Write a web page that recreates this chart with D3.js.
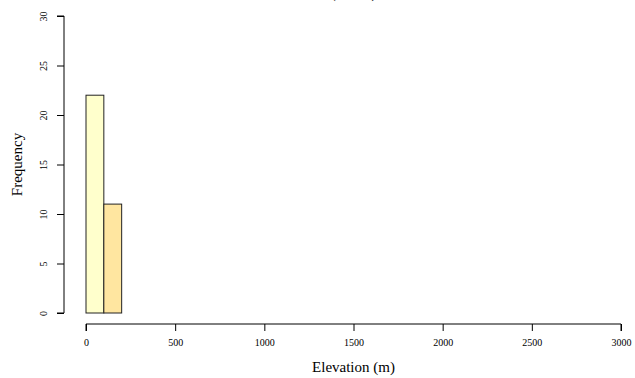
<!DOCTYPE html>
<html><head><meta charset="utf-8">
<script src="https://cdn.jsdelivr.net/npm/d3@7"></script>
<style>body{margin:0;background:#fff}svg{display:block}text{font-family:"Liberation Serif","Times New Roman",serif;fill:#000}</style>
</head><body><svg id="c" width="635" height="378"></svg>
<script>
const binStarts = d3.range(0, 3000, 100);
const counts = [22, 11, 0,0,0,0,0,0,0,0,0,0,0,0,0,0,0,0,0,0,0,0,0,0,0,0,0,0,0,0];
const binColors = ["#FFFFCC", "#FFE6A0"];
const xTicks = [0, 500, 1000, 1500, 2000, 2500, 3000];
const yTicks = [0, 5, 10, 15, 20, 25, 30];
const titleText = "(n = 33)";

const svg = d3.select("#c");
const x = d3.scaleLinear().domain([0, 3000]).range([86, 621]);
const y = d3.scaleLinear().domain([0, 30]).range([313, 16]);

svg.append("text").attr("x", 353.5).attr("y", -2).attr("text-anchor", "middle")
  .style("font-size", "14px").text(titleText);

svg.selectAll("rect.bar").data(binStarts).enter().append("rect")
  .attr("x", d => x(d)).attr("width", d => x(d + 100) - x(d))
  .attr("y", (d, i) => y(counts[i])).attr("height", (d, i) => y(0) - y(counts[i]))
  .attr("fill", (d, i) => binColors[i] || "#FFFFFF")
  .attr("stroke", "#222").attr("stroke-width", 1);

const xAxis = svg.append("g").attr("transform", "translate(0,324)")
  .call(d3.axisBottom(x).tickValues(xTicks).tickSize(7).tickPadding(8).tickFormat(d3.format("d")));
xAxis.select(".domain").attr("d", `M${x(0)},7V0H${x(3000)}V7`).attr("stroke", "#000");
xAxis.selectAll("text").style("font-size", "10px").style("font-family", "Liberation Serif");

const yAxis = svg.append("g").attr("transform", "translate(64,0)")
  .call(d3.axisLeft(y).tickValues(yTicks).tickSize(7).tickPadding(0));
yAxis.select(".domain").attr("d", `M-7,${y(0)}H0V${y(30)}H-7`).attr("stroke", "#000");
yAxis.selectAll("text").style("font-size", "10px").style("font-family", "Liberation Serif")
  .attr("text-anchor", "middle").attr("x", 0).attr("dy", 0)
  .attr("transform", `translate(-17,0) rotate(-90)`);
yAxis.selectAll(".tick text").attr("y", 0);

svg.append("text").attr("x", 353.5).attr("y", 372).attr("text-anchor", "middle")
  .style("font-size", "15px").text("Elevation (m)");
svg.append("text").attr("transform", "translate(22,164.5) rotate(-90)").attr("text-anchor", "middle")
  .style("font-size", "15px").text("Frequency");
</script></body></html>
